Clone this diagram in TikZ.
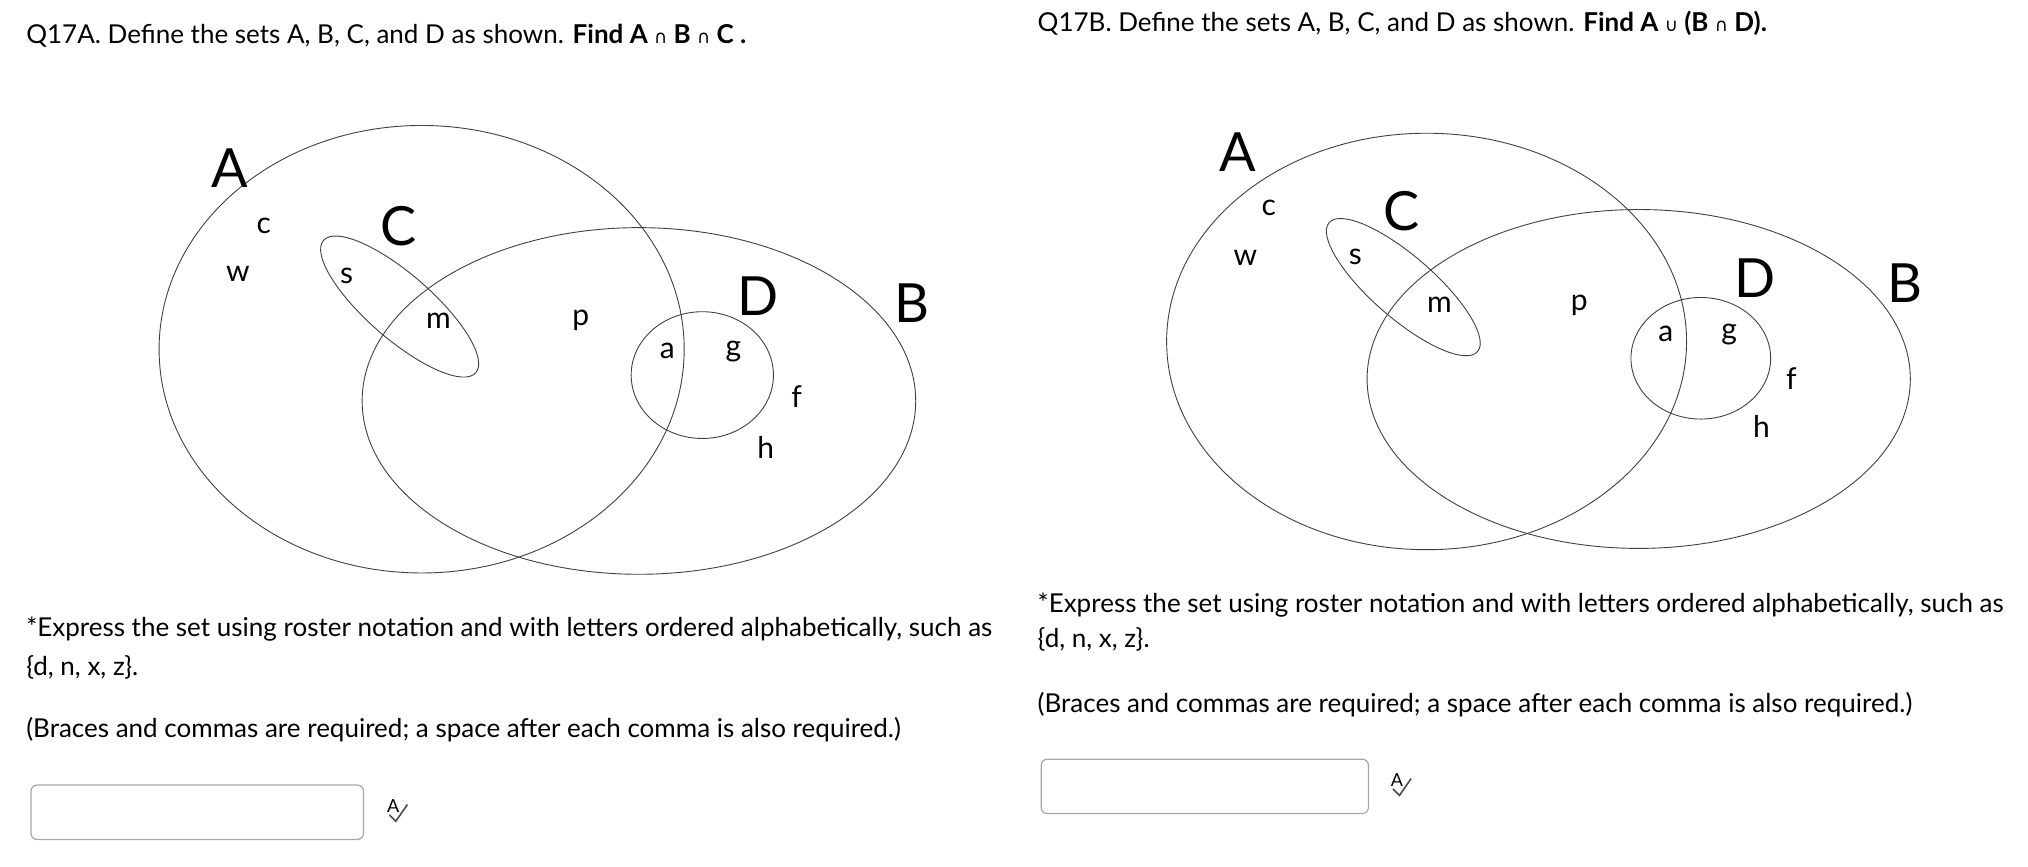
\documentclass[tikz,border=0pt]{standalone}
\usepackage{fontspec}
\setmainfont{Lato}
\newfontfamily\symf{DejaVu Sans}
\begin{document}
\begin{tikzpicture}[x=0.6465pt,y=-0.6465pt,
  setline/.style={draw=black!75,line width=0.45pt},
  big/.style={font=\fontsize{27}{27}\selectfont},
  lab/.style={font=\fontsize{15}{15}\selectfont},
  txt/.style={anchor=west,font=\fontsize{13}{15}\selectfont,inner sep=0pt},
  ansbox/.style={draw=black!35,rounded corners=3pt,line width=0.6pt}]
\useasboundingbox (0,0) rectangle (1568,670);
% ---------- left panel ----------
\node[txt] (t1) at (20,28) {Q17A. Define the sets A, B, C, and D as shown. \textbf{Find A {\symf\mdseries\small ∩} B {\symf\mdseries\small ∩} C .}};
\draw[setline] (326,270) ellipse [x radius=203,y radius=173];
\draw[setline] (494,310) ellipse [x radius=214,y radius=134];
\draw[setline,rotate around={-41:(309,237)}] (309,237) ellipse [x radius=78,y radius=25];
\draw[setline] (543,290) ellipse [x radius=55,y radius=49];
\node[big] (lA) at (178,130) {A};
\node[big] (lC) at (308,175) {C};
\node[big] (lD) at (586,229) {D};
\node[big] (lB) at (705,234) {B};
\node[lab] (lc) at (204,175) {c};
\node[lab] (lw) at (184,212) {w};
\node[lab] (ls) at (268,213) {s};
\node[lab] (lm) at (339,248) {m};
\node[lab] (lp) at (449,248) {p};
\node[lab] (la) at (516,271) {a};
\node[lab] (lg) at (567,272) {g};
\node[lab] (lf) at (616,307) {f};
\node[lab] (lh) at (592,346) {h};
\node[txt] (e1) at (20,486) {*Express the set using roster notation and with letters ordered alphabetically, such as};
\node[txt] (e2) at (20,516) {\{d, n, x, z\}.};
\node[txt] (e3) at (20,564) {(Braces and commas are required; a space after each comma is also required.)};
\draw[ansbox] (24,607) rectangle (281,649);
\node[font=\fontsize{9}{9}\selectfont,inner sep=0pt] (ic1) at (304,623) {A};
\draw[line width=0.8pt,black!70] (301,630) -- (306,635) -- (315,622);
% ---------- right panel ----------
\node[txt] (t2) at (802,18) {Q17B. Define the sets A, B, C, and D as shown. \textbf{Find A {\symf\mdseries\small ∪} (B {\symf\mdseries\small ∩} D).}};
\draw[setline] (1103,264) ellipse [x radius=201,y radius=161];
\draw[setline] (1267,293) ellipse [x radius=210,y radius=131];
\draw[setline,rotate around={-41:(1085,222)}] (1085,222) ellipse [x radius=76,y radius=24];
\draw[setline] (1315,277) ellipse [x radius=54,y radius=47];
\node[big] (rA) at (957,118) {A};
\node[big] (rC) at (1084,163) {C};
\node[big] (rD) at (1357,215) {D};
\node[big] (rB) at (1473,219) {B};
\node[lab] (rc) at (981,161) {c};
\node[lab] (rw) at (963,199) {w};
\node[lab] (rs) at (1048,199) {s};
\node[lab] (rm) at (1113,236) {m};
\node[lab] (rp) at (1221,236) {p};
\node[lab] (ra) at (1288,258) {a};
\node[lab] (rg) at (1337,259) {g};
\node[lab] (rf) at (1385,293) {f};
\node[lab] (rh) at (1362,330) {h};
\node[txt] (f1) at (802,468) {*Express the set using roster notation and with letters ordered alphabetically, such as};
\node[txt] (f2) at (802,494) {\{d, n, x, z\}.};
\node[txt] (f3) at (802,545) {(Braces and commas are required; a space after each comma is also required.)};
\draw[ansbox] (805,587) rectangle (1058,629);
\node[font=\fontsize{9}{9}\selectfont,inner sep=0pt] (ic2) at (1080,603) {A};
\draw[line width=0.8pt,black!70] (1077,610) -- (1082,615) -- (1091,602);
\end{tikzpicture}
\end{document}
